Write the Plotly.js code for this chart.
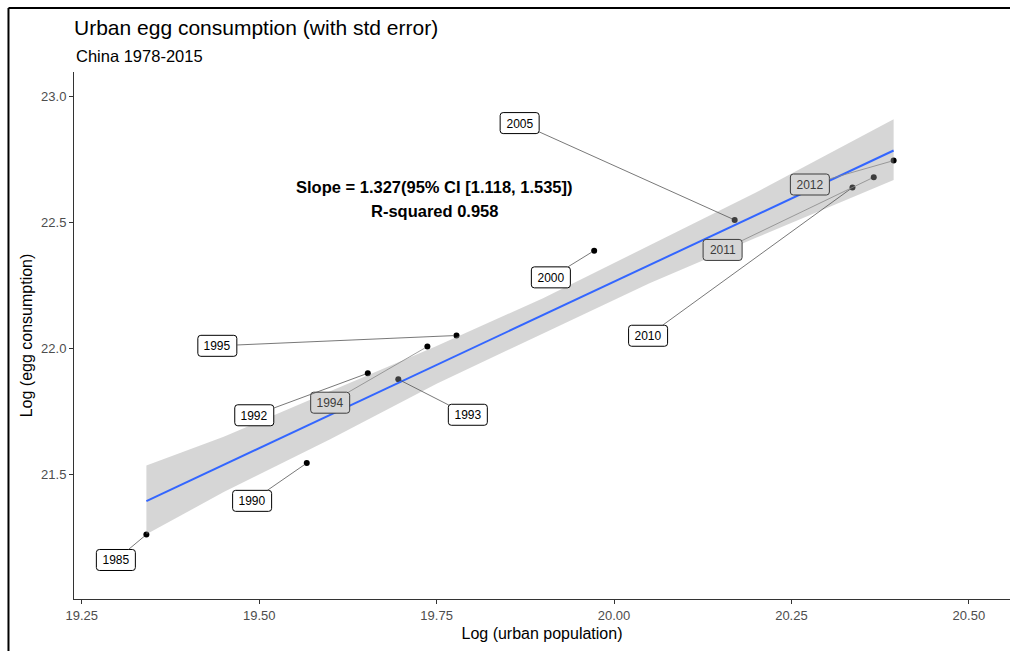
<!DOCTYPE html>
<html><head><meta charset="utf-8">
<script src="https://cdn.plot.ly/plotly-3.0.1.min.js"></script>
<style>html,body{margin:0;padding:0;background:#fff}</style>
</head><body>
<div id="chart" style="width:1010px;height:651px"></div>
<script>
// ---- data ----
const years   = ['1985','1990','1992','1993','1994','1995','2000','2005','2010','2011','2012'];
const logPop  = [19.341,19.567,19.653,19.696,19.737,19.778,19.972,20.170,20.336,20.366,20.394];
const logEgg  = [21.261,21.545,21.902,21.878,22.008,22.052,22.389,22.511,22.640,22.681,22.747];
const labelX  = [19.298,19.490,19.493,19.794,19.600,19.441,19.911,19.867,20.048,20.153,20.276];
const labelY  = [21.160,21.395,21.735,21.737,21.785,22.011,22.283,22.896,22.051,22.392,22.652];
const fitX      = [19.341,19.45,19.60,19.75,19.90,20.05,20.20,20.394];
const fitY      = [21.394,21.538,21.737,21.935,22.134,22.332,22.530,22.787];
const bandUpper = [21.535,21.65,21.83,22.01,22.20,22.41,22.62,22.911];
const bandLower = [21.262,21.43,21.64,21.86,22.06,22.26,22.44,22.670];
const xTicks    = [19.25,19.5,19.75,20,20.25,20.5];
const xTickText = ['19.25','19.50','19.75','20.00','20.25','20.50'];
const yTicks    = [21.5,22,22.5,23];
const yTickText = ['21.5','22.0','22.5','23.0'];
const titleText    = 'Urban egg consumption (with std error)';
const subtitleText = 'China 1978-2015';
const statLine1 = 'Slope = 1.327(95% CI [1.118, 1.535])';
const statLine2 = 'R-squared 0.958';
const statPos = {x: 19.747, y1: 22.642, y2: 22.547};

// labels drawn underneath the translucent band in the original
const shaded = new Set(['1994','2011','2012']);

const FONT = 'Liberation Sans, Arial, sans-serif';

const traces = [
  {type:'scatter', mode:'markers', x:logPop, y:logEgg,
   marker:{size:6, color:'#000'}, hoverinfo:'skip', showlegend:false},
  {type:'scatter', mode:'lines',
   x: fitX.concat(fitX.slice().reverse()),
   y: bandUpper.concat(bandLower.slice().reverse()),
   fill:'toself', fillcolor:'rgba(153,153,153,0.4)',
   line:{width:0}, hoverinfo:'skip', showlegend:false},
  {type:'scatter', mode:'lines', x:fitX, y:fitY,
   line:{color:'#3366FF', width:2}, hoverinfo:'skip', showlegend:false}
];

// rounded label box outline (pixels, relative to the label anchor)
const W = 19.5, H = 10.5, R = 3;
const boxPath = `M ${-W+R},${-H} L ${W-R},${-H} Q ${W},${-H} ${W},${-H+R} L ${W},${H-R} Q ${W},${H} ${W-R},${H} ` +
                `L ${-W+R},${H} Q ${-W},${H} ${-W},${H-R} L ${-W},${-H+R} Q ${-W},${-H} ${-W+R},${-H} Z`;

const shapes = years.map((yr,i)=>{
  const sh = shaded.has(yr);
  return {type:'path', xref:'x', yref:'y', xsizemode:'pixel', ysizemode:'pixel',
          xanchor: labelX[i], yanchor: labelY[i], path: boxPath, layer:'above',
          fillcolor: sh ? '#d6d6d6' : '#ffffff',
          line:{color: sh ? '#3d3d3d' : '#000', width:1}};
});
shapes.push(
  {type:'line', xref:'paper', yref:'paper', x0:-0.07, x1:-0.07, y0:1.1214, y1:-0.2,
   line:{color:'#000', width:2}},
  {type:'line', xref:'paper', yref:'paper', x0:-0.07, x1:1.02, y0:1.1214, y1:1.1214,
   line:{color:'#000', width:2}}
);

const annotations = years.map((yr,i)=>{
  const sh = shaded.has(yr);
  return {
    x: logPop[i], y: logEgg[i], xref:'x', yref:'y',
    ax: labelX[i], ay: labelY[i], axref:'x', ayref:'y',
    text: yr, showarrow:true, arrowhead:0, arrowwidth:0.8,
    arrowcolor: sh ? '#888' : '#555', standoff:3,
    bgcolor:'rgba(0,0,0,0)', borderwidth:0, borderpad:3,
    width:32, height:15,
    font:{family:FONT, size:12, color: sh ? '#3d3d3d' : '#000'}
  };
});
annotations.push(
  {x:statPos.x, y:statPos.y1, xref:'x', yref:'y', showarrow:false,
   text:'<b>'+statLine1+'</b>', font:{family:FONT, size:16.5, color:'#000'}},
  {x:statPos.x, y:statPos.y2, xref:'x', yref:'y', showarrow:false,
   text:'<b>'+statLine2+'</b>', font:{family:FONT, size:16.5, color:'#000'}},
  {x:0, y:1.0304, xref:'paper', yref:'paper', xanchor:'left', yanchor:'middle',
   showarrow:false, text:subtitleText, font:{family:FONT, size:16.5, color:'#000'}}
);

const axisCommon = {
  showgrid:false, zeroline:false, showline:true, linecolor:'#333', linewidth:1,
  ticks:'outside', ticklen:4, tickcolor:'#333', tickwidth:1,
  tickfont:{family:FONT, size:13, color:'#4d4d4d'}, automargin:false
};

const layout = {
  width:1010, height:651,
  margin:{l:74, r:0, t:72, b:52},
  paper_bgcolor:'#fff', plot_bgcolor:'#fff',
  font:{family:FONT},
  title:{text:titleText, x:0, xref:'paper', xanchor:'left',
         y:1-28/651, yref:'container', yanchor:'middle',
         font:{family:FONT, size:21, color:'#000'}},
  xaxis:Object.assign({}, axisCommon, {
    range:[19.239,20.558], tickvals:xTicks, ticktext:xTickText,
    title:{text:'Log (urban population)', font:{family:FONT, size:16, color:'#000'}, standoff:6}
  }),
  yaxis:Object.assign({}, axisCommon, {
    range:[21.005,23.099], tickvals:yTicks, ticktext:yTickText,
    title:{text:'Log (egg consumption)', font:{family:FONT, size:16, color:'#000'}, standoff:4}
  }),
  annotations: annotations,
  shapes: shapes,
  showlegend:false
};

Plotly.newPlot('chart', traces, layout, {displayModeBar:false, staticPlot:true});
</script>
</body></html>
